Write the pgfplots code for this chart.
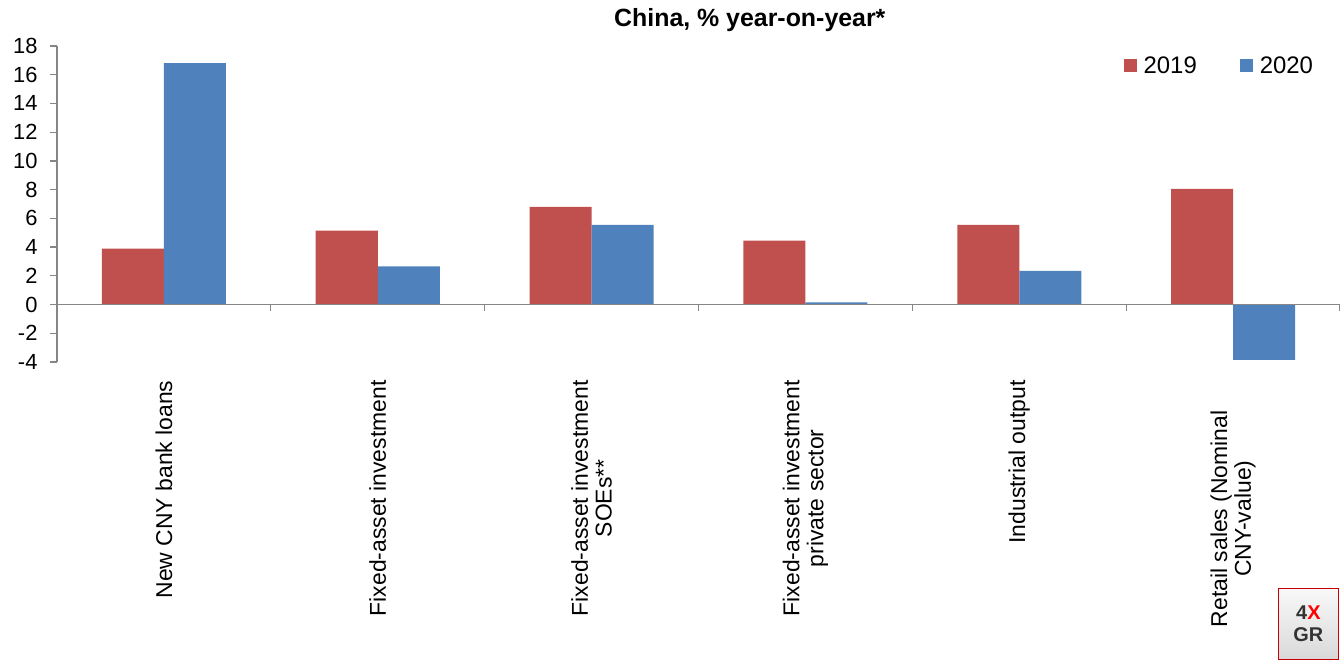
\documentclass[border=0pt]{standalone}
\usepackage{pgfplots}
\pgfplotsset{compat=1.18}
\usetikzlibrary{calc}
\usepackage{fontspec}
\setmainfont{Liberation Sans}
\definecolor{red19}{HTML}{C0504D}
\definecolor{blue20}{HTML}{4F81BD}
\definecolor{axgray}{HTML}{868686}
\begin{document}
\begin{tikzpicture}
\begin{axis}[
  scale only axis, width=1283bp, height=316bp,
  xmin=-0.5, xmax=5.5, ymin=-4, ymax=18,
  ytick={-4,-2,...,18},
  xtick={0,...,4},
  xticklabels={New CNY bank loans, Fixed-asset investment, {Fixed-asset investment\\SOEs**}, {Fixed-asset investment\\private sector}, Industrial output},
  extra x ticks={5},
  extra x tick labels={{Retail sales (Nominal\\CNY-value)}},
  extra x tick style={xticklabel style={xshift=-30bp}},
  axis lines*=left,
  axis line style={-, axgray, line width=1.3bp},
  x axis line style={draw=none},
  tick align=outside,
  y tick style={axgray, line width=1.3bp},
  x tick style={draw=none},
  major tick length=7bp,
  /pgf/number format/assume math mode=true,
  yticklabel style={font=\fontsize{22}{24}\selectfont, xshift=-9bp},
  xticklabel style={font=\fontsize{23}{24}\selectfont, rotate=90, anchor=east, align=center, xshift=-8bp},
  title={China, \% year-on-year*},
  title style={at={(0.540,1)}, anchor=center, yshift=20bp, font=\bfseries\fontsize{25}{27}\selectfont},
  legend columns=2,
  legend style={draw=none, fill=none, at={(0.983,0.98)}, anchor=north east, font=\fontsize{24}{26}\selectfont,
    /tikz/every even column/.append style={column sep=41bp}},
  legend image code/.code={\fill[#1] (0bp,-6.5bp) rectangle (13bp,6.5bp); \path (18bp,0bp);},
]
\addplot[ybar, bar width=0.29, bar shift=-0.145, fill=red19, draw=none] coordinates {(0,3.9) (1,5.15) (2,6.8) (3,4.45) (4,5.55) (5,8.05)};
\addlegendentry{2019}
\addplot[ybar, bar width=0.29, bar shift=0.145, fill=blue20, draw=none] coordinates {(0,16.8) (1,2.65) (2,5.55) (3,0.15) (4,2.35) (5,-3.85)};
\addlegendentry{2020}
\draw[axgray, line width=1.3bp] (axis cs:-0.5,0) -- (axis cs:5.5,0);
\draw[axgray, line width=1.3bp] (axis cs:0.5,0) -- (axis cs:0.5,-0.48);
\draw[axgray, line width=1.3bp] (axis cs:1.5,0) -- (axis cs:1.5,-0.48);
\draw[axgray, line width=1.3bp] (axis cs:2.5,0) -- (axis cs:2.5,-0.48);
\draw[axgray, line width=1.3bp] (axis cs:3.5,0) -- (axis cs:3.5,-0.48);
\draw[axgray, line width=1.3bp] (axis cs:4.5,0) -- (axis cs:4.5,-0.48);
\draw[axgray, line width=1.3bp] (axis cs:5.5,0) -- (axis cs:5.5,-0.48);
\end{axis}
\node[anchor=south east, draw=red!80!black, line width=1.2bp, top color=gray!5, bottom color=gray!30, minimum width=60bp, minimum height=71bp, align=center, inner sep=2bp, font=\bfseries\fontsize{20}{22}\selectfont]
  at ($(current axis.south east)+(-1bp,-298bp)$) {{\color{black!80}4}{\color{red}X}\\{\color{black!80}GR}};
\pgfresetboundingbox
\useasboundingbox ($(current axis.south west)+(-57bp,-299bp)$) rectangle ($(current axis.north east)+(0bp,46bp)$);
\end{tikzpicture}
\end{document}
